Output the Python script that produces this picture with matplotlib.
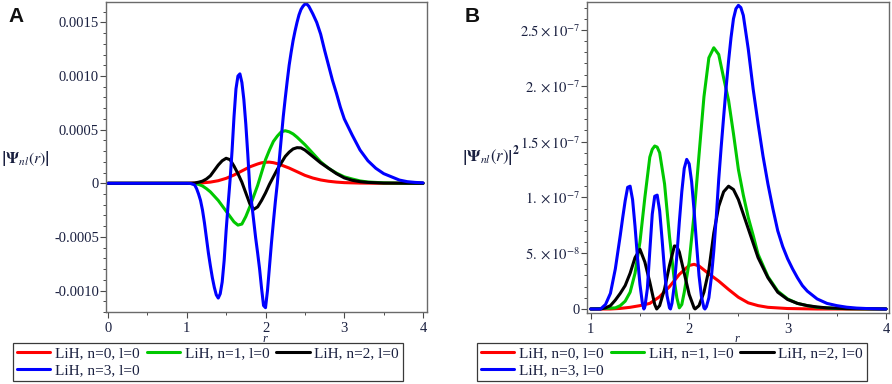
import matplotlib
matplotlib.use('Agg')
import matplotlib.pyplot as plt
from matplotlib.ticker import MultipleLocator

# ---- panel A : psi_nl(r) ----
a_r_n0 = [0, 1.0, 1.1, 1.2, 1.3, 1.4, 1.5, 1.6, 1.7, 1.8, 1.9, 1.95, 2.0, 2.05, 2.1, 2.15, 2.2,
          2.3, 2.4, 2.5, 2.6, 2.7, 2.8, 2.9, 3.0, 3.2, 3.5, 4.0]
a_psi_n0 = [0, 0, 0.000001, 0.000004, 0.000011, 0.000024, 0.000046, 0.000077, 0.000115, 0.000153,
            0.000180, 0.000191, 0.000196, 0.000197, 0.000192, 0.000183, 0.000170, 0.000142,
            0.000108, 0.000074, 0.000049, 0.000031, 0.000019, 0.000011, 0.000006, 0.000002, 0.0, 0.0]

a_r_n1 = [0, 1.0, 1.1, 1.15, 1.2, 1.25, 1.3, 1.35, 1.4, 1.45, 1.5, 1.55, 1.6, 1.65, 1.7, 1.75, 1.8,
          1.85, 1.9, 1.95, 2.0, 2.05, 2.1, 2.15, 2.2, 2.25, 2.3, 2.35, 2.4, 2.5, 2.6, 2.7, 2.8, 2.9,
          3.0, 3.1, 3.2, 3.3, 3.5, 3.7, 4.0]
a_psi_n1 = [0, 0, -0.000004, -0.00001, -0.000025, -0.00005, -0.00008, -0.00012, -0.00016, -0.00021,
            -0.00026, -0.00031, -0.00036, -0.00039, -0.00038, -0.00031, -0.00022, -0.00012, -0.00002,
            0.0001, 0.00022, 0.00031, 0.00039, 0.00044, 0.00048, 0.00049, 0.00048, 0.00046, 0.00043,
            0.00036, 0.00028, 0.0002, 0.00014, 0.000095, 0.00006, 0.00004, 0.000022, 0.000012,
            0.000004, 0.000001, 0]

a_r_n2 = [0, 1.0, 1.1, 1.15, 1.2, 1.25, 1.3, 1.35, 1.4, 1.45, 1.5, 1.55, 1.6, 1.65, 1.7, 1.75, 1.8,
          1.85, 1.9, 1.95, 2.0, 2.05, 2.1, 2.15, 2.2, 2.25, 2.3, 2.35, 2.4, 2.45, 2.5, 2.6, 2.7, 2.8,
          2.9, 3.0, 3.1, 3.2, 3.3, 3.5, 4.0]
a_psi_n2 = [0, 0, 0.000003, 0.00001, 0.00002, 0.00004, 0.00007, 0.00012, 0.00017, 0.00021, 0.000233,
            0.00022, 0.00016, 0.00009, 0.00001, -0.00009, -0.00019, -0.000243, -0.00022, -0.00016,
            -0.00009, -0.00001, 0.00006, 0.00013, 0.00019, 0.00025, 0.00029, 0.00032, 0.000332,
            0.00033, 0.00031, 0.00025, 0.00019, 0.00014, 0.00009, 0.00005, 0.000028, 0.000015,
            0.000008, 0.000002, 0]

a_r_n3 = [0, 1.0, 1.05, 1.1, 1.125, 1.15, 1.175, 1.2, 1.225, 1.25, 1.275, 1.3, 1.325, 1.35, 1.375,
          1.4, 1.425, 1.45, 1.475, 1.5, 1.525, 1.55, 1.575, 1.6, 1.625, 1.65, 1.675, 1.7, 1.725,
          1.75, 1.775, 1.8, 1.825, 1.85, 1.875, 1.9, 1.925, 1.95, 1.975, 2.0, 2.025, 2.05, 2.075,
          2.1, 2.125, 2.15, 2.175, 2.2, 2.225, 2.25, 2.275, 2.3, 2.325, 2.35, 2.375, 2.4, 2.425,
          2.45, 2.475, 2.5, 2.525, 2.55, 2.6, 2.65, 2.7, 2.75, 2.8, 2.85, 2.9, 2.95, 3.0, 3.1, 3.2,
          3.3, 3.4, 3.5, 3.6, 3.7, 3.8, 3.9, 4.0]
a_psi_n3 = [0, 0, -0.000002, -0.000015, -0.00005, -0.0001, -0.00016, -0.00025, -0.00037, -0.00051,
            -0.00065, -0.00077, -0.00088, -0.00097, -0.00104, -0.00107, -0.00103, -0.00092,
            -0.00072, -0.00044, -0.0002, 0.00003, 0.0003, 0.00062, 0.00088, 0.001, 0.00102,
            0.00094, 0.00078, 0.00055, 0.00027, -0.00004, -0.00019, -0.00035, -0.00051, -0.00065,
            -0.0008, -0.00098, -0.00114, -0.00116, -0.001, -0.00078, -0.00056, -0.00036, -0.00017,
            0.0, 0.00022, 0.00042, 0.00062, 0.00079, 0.00095, 0.0011, 0.00122, 0.00133, 0.00142,
            0.0015, 0.00157, 0.00162, 0.00165, 0.00167, 0.00167, 0.00165, 0.00158, 0.0015, 0.00139,
            0.00124, 0.0011, 0.00096, 0.00084, 0.00071, 0.0006, 0.00045, 0.00031, 0.00021, 0.00014,
            0.00009, 0.00006, 0.00003, 0.000015, 0.000008, 0.000004]

# ---- panel B : |psi_nl(r)|^2 ----
b_r_n0 = [1.0, 1.2, 1.3, 1.4, 1.5, 1.6, 1.7, 1.8, 1.9, 2.0, 2.05, 2.1, 2.2, 2.3, 2.4, 2.5, 2.6, 2.7,
          2.8, 3.0, 3.3, 4.0]
b_psi_n0 = [0, 0, 5e-10, 1.5e-9, 3e-9, 5e-9, 1.1e-8, 2.0e-8, 3.1e-8, 3.9e-8, 4.0e-8, 3.85e-8,
            3.15e-8, 2.5e-8, 1.75e-8, 1.05e-8, 5.5e-9, 3e-9, 1.5e-9, 4e-10, 0, 0]

b_r_n1 = [1.0, 1.25, 1.3, 1.35, 1.4, 1.45, 1.5, 1.55, 1.6, 1.625, 1.65, 1.675, 1.7, 1.75, 1.8, 1.85,
          1.875, 1.9, 1.925, 1.95, 2.0, 2.05, 2.1, 2.15, 2.2, 2.25, 2.3, 2.35, 2.4, 2.45, 2.5, 2.55,
          2.6, 2.65, 2.7, 2.8, 2.9, 3.0, 3.1, 3.2, 3.3, 3.5, 4.0]
b_psi_n1 = [0, 1e-9, 3e-9, 7e-9, 1.5e-8, 3.2e-8, 6e-8, 1.0e-7, 1.36e-7, 1.43e-7, 1.46e-7, 1.45e-7,
            1.4e-7, 1.12e-7, 6.5e-8, 2.5e-8, 1e-8, 1e-9, 4e-9, 1.5e-8, 4.2e-8, 8.5e-8, 1.38e-7,
            1.9e-7, 2.25e-7, 2.34e-7, 2.28e-7, 2.07e-7, 1.87e-7, 1.57e-7, 1.25e-7, 1.02e-7, 8.2e-8,
            6.6e-8, 4.9e-8, 2.9e-8, 1.6e-8, 9e-9, 5e-9, 3e-9, 1.5e-9, 4e-10, 0]

b_r_n2 = [1.0, 1.1, 1.15, 1.2, 1.25, 1.3, 1.35, 1.4, 1.45, 1.5, 1.55, 1.6, 1.65, 1.67, 1.7, 1.75,
          1.8, 1.85, 1.875, 1.9, 1.95, 2.0, 2.05, 2.06, 2.1, 2.15, 2.2, 2.25, 2.3, 2.35, 2.4, 2.45,
          2.5, 2.6, 2.7, 2.8, 2.9, 3.0, 3.1, 3.2, 3.3, 3.4, 3.6, 4.0]
b_psi_n2 = [0, 0, 1e-9, 3e-9, 8e-9, 1.4e-8, 2.1e-8, 3.2e-8, 4.6e-8, 5.35e-8, 4.2e-8, 2.4e-8, 4e-9, 0,
            3e-9, 1.8e-8, 3.9e-8, 5.65e-8, 5.6e-8, 5.1e-8, 3.2e-8, 1.3e-8, 1e-9, 0, 3e-9, 1.5e-8,
            3.5e-8, 6.8e-8, 9.2e-8, 1.05e-7, 1.1e-7, 1.07e-7, 9.8e-8, 7.2e-8, 4.6e-8, 2.8e-8,
            1.5e-8, 8.5e-9, 5e-9, 3e-9, 1.8e-9, 1e-9, 3e-10, 0]

b_r_n3 = [1.0, 1.1, 1.15, 1.2, 1.25, 1.3, 1.325, 1.35, 1.375, 1.4, 1.425, 1.45, 1.475, 1.5, 1.525,
          1.54, 1.55, 1.575, 1.6, 1.625, 1.65, 1.675, 1.7, 1.725, 1.75, 1.775, 1.8, 1.81, 1.825,
          1.85, 1.875, 1.9, 1.925, 1.95, 1.975, 2.0, 2.025, 2.05, 2.075, 2.1, 2.125, 2.15, 2.16,
          2.175, 2.2, 2.225, 2.25, 2.275, 2.3, 2.325, 2.35, 2.375, 2.4, 2.425, 2.45, 2.475, 2.5,
          2.525, 2.55, 2.6, 2.65, 2.7, 2.75, 2.8, 2.85, 2.9, 2.95, 3.0, 3.05, 3.1, 3.15, 3.2, 3.3,
          3.4, 3.5, 3.6, 3.7, 3.8, 4.0]
b_psi_n3 = [0, 0, 4e-9, 1.4e-8, 3.6e-8, 6.6e-8, 8.2e-8, 9.7e-8, 1.09e-7, 1.1e-7, 9.8e-8, 7.4e-8,
            4.6e-8, 2.2e-8, 5e-9, 0, 2e-9, 1.8e-8, 5.2e-8, 8.5e-8, 1.01e-7, 1.02e-7, 8.8e-8, 6.2e-8,
            3.4e-8, 1.2e-8, 1e-9, 0, 5e-9, 2.2e-8, 4.8e-8, 7.8e-8, 1.05e-7, 1.26e-7, 1.34e-7,
            1.3e-7, 1.14e-7, 8.8e-8, 5.8e-8, 3.0e-8, 1.1e-8, 1e-9, 0, 2e-9, 1e-8, 2.8e-8, 5.2e-8,
            8.2e-8, 1.16e-7, 1.45e-7, 1.72e-7, 1.98e-7, 2.22e-7, 2.43e-7, 2.6e-7, 2.69e-7, 2.72e-7,
            2.7e-7, 2.63e-7, 2.33e-7, 1.97e-7, 1.66e-7, 1.37e-7, 1.12e-7, 9.0e-8, 7.0e-8, 5.6e-8,
            4.5e-8, 3.6e-8, 2.8e-8, 2.1e-8, 1.6e-8, 9e-9, 5e-9, 3e-9, 1.6e-9, 8e-10, 4e-10, 0]

labels = ['LiH, n=0, l=0', 'LiH, n=1, l=0', 'LiH, n=2, l=0', 'LiH, n=3, l=0']
colors = ['#ff0000', '#00c800', '#000000', '#0000ff']

a_yticks = [-0.001, -0.0005, 0, 0.0005, 0.001, 0.0015]
a_ylabels = ['-0.0010', '-0.0005', '0', '0.0005', '0.0010', '0.0015']
b_yticks = [0, 5e-8, 1e-7, 1.5e-7, 2e-7, 2.5e-7]
b_ylabels = ['0', r'$5.\times10^{-8}$', r'$1.\times10^{-7}$', r'$1.5\times10^{-7}$',
             r'$2.\times10^{-7}$', r'$2.5\times10^{-7}$']

plt.rcParams['mathtext.fontset'] = 'stix'
serif = 'Liberation Serif'
txt = '#1a2040'
W, H = 892, 384


def style_axes(ax):
    for s in ax.spines.values():
        s.set_color('#6a6a6a')
        s.set_linewidth(1.0)
    ax.xaxis.set_minor_locator(MultipleLocator(0.5))
    ax.tick_params(which='both', direction='out', colors='#4a4a4a', labelcolor=txt,
                   labelsize=10.5, labelfontfamily=serif, top=False, right=False)
    ax.tick_params(which='major', length=4, width=0.8)
    ax.tick_params(which='minor', length=2.5, width=0.7)
    ax.tick_params(axis='x', pad=3)
    ax.tick_params(axis='y', pad=1)


def draw(ax, rs, vals):
    lines = []
    for r, v, c in zip(rs, vals, colors):
        ln, = ax.plot(r, v, color=c, lw=2.2, solid_joinstyle='round', solid_capstyle='round')
        lines.append(ln)
    return lines


def add_legend(lines, x0):
    order = [0, 3, 1, 2]
    leg = fig.legend([lines[i] for i in order], [labels[i] for i in order], ncol=3,
                     loc='upper left', bbox_to_anchor=(x0 / W, 1 - 343 / H),
                     frameon=True, fancybox=False, edgecolor='#3a3a3a', framealpha=1,
                     prop={'family': serif, 'size': 11}, handlelength=2.2, handletextpad=0.3,
                     columnspacing=0.45, borderpad=0.25, labelspacing=0.2, borderaxespad=0)
    leg.get_frame().set_linewidth(0.9)
    for t in leg.get_texts():
        t.set_color(txt)


fig = plt.figure(figsize=(W / 100, H / 100), dpi=100)

axA = fig.add_axes([106 / W, 1 - 312 / H, 321 / W, 310 / H])
linesA = draw(axA, [a_r_n0, a_r_n1, a_r_n2, a_r_n3], [a_psi_n0, a_psi_n1, a_psi_n2, a_psi_n3])
axA.set_xlim(-0.025, 4.05)
axA.set_ylim(-0.0012, 0.00169)
axA.set_xticks([0, 1, 2, 3, 4])
axA.set_yticks(a_yticks, a_ylabels)
axA.yaxis.set_minor_locator(MultipleLocator(0.0001))
style_axes(axA)

axB = fig.add_axes([587 / W, 1 - 313 / H, 302 / W, 311 / H])
linesB = draw(axB, [b_r_n0, b_r_n1, b_r_n2, b_r_n3], [b_psi_n0, b_psi_n1, b_psi_n2, b_psi_n3])
axB.set_xlim(0.962, 4.03)
axB.set_ylim(-3.6e-9, 2.75e-7)
axB.set_xticks([1, 2, 3, 4])
axB.set_yticks(b_yticks, b_ylabels)
axB.yaxis.set_minor_locator(MultipleLocator(1e-8))
style_axes(axB)

# axis titles and panel letters
fig.text(25 / W, 1 - 159 / H, r'$\left|\mathbf{\Psi}_{nl}(r)\right|$', ha='center', va='center',
         fontsize=11.5, color=txt)
fig.text(491 / W, 1 - 157 / H, r'$\left|\mathbf{\Psi}_{nl}(r)\right|^{\mathbf{2}}$', ha='center',
         va='center', fontsize=12, color=txt)
fig.text(265 / W, 1 - 338.5 / H, 'r', style='italic', family=serif, fontsize=9, ha='center',
         va='center', color=txt)
fig.text(737 / W, 1 - 338.5 / H, 'r', style='italic', family=serif, fontsize=9, ha='center',
         va='center', color=txt)
fig.text(8 / W, 1 - 17 / H, 'A', family='Liberation Sans', fontweight='bold', fontsize=15,
         ha='left', va='center', color='#111111')
fig.text(465 / W, 1 - 17 / H, 'B', family='Liberation Sans', fontweight='bold', fontsize=15,
         ha='left', va='center', color='#111111')

add_legend(linesA, 13)
add_legend(linesB, 477)

fig.savefig('out.png', dpi=100)
